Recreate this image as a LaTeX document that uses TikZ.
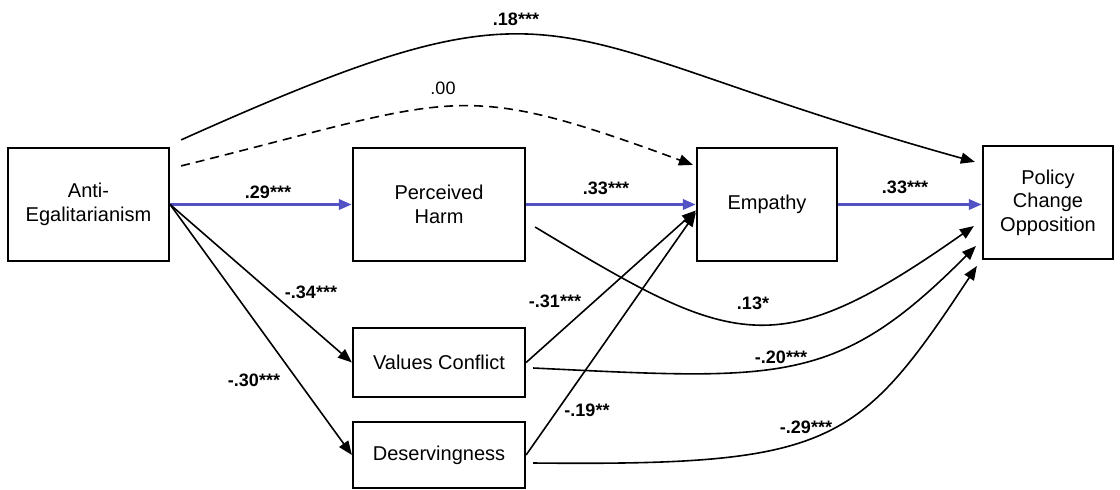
\documentclass[tikz,border=0pt]{standalone}
\usepackage{fontspec}
\setmainfont{Liberation Sans}
\usetikzlibrary{arrows.meta,calc}
\definecolor{pathblue}{RGB}{82,82,196}

\begin{document}
\begin{tikzpicture}[x=0.5pt,y=-0.5pt,
  box/.style={draw,line width=1.1pt,inner sep=0pt,align=center,
              font=\fontsize{10}{11.8}\selectfont},
  coef/.style={font=\fontsize{9}{10}\selectfont\bfseries,inner sep=1pt},
  link/.style={-{Triangle[length=7pt,width=5.5pt]},line width=0.8pt},
  mainlink/.style={-{Triangle[length=6.5pt,width=5pt]},line width=1.6pt,pathblue}
]
\useasboundingbox (0,0) rectangle (1120,489);

% ---- Boxes --------------------------------------------------
\node[box,minimum width=80.5pt,minimum height=56.5pt] (anti)    at (88.5,204.5) {Anti-\\Egalitarianism};
\node[box,minimum width=86pt,minimum height=56.5pt]   (harm)    at (439,204.5)  {Perceived\\Harm};
\node[box,minimum width=70pt,minimum height=56.5pt]   (empathy) at (767,204.5)  {Empathy};
\node[box,minimum width=65pt,minimum height=56.5pt]   (policy)  at (1048,202.5) {Policy\\Change\\Opposition};
\node[box,minimum width=86pt,minimum height=34.5pt]   (values)  at (439,362.5)  {Values Conflict};
\node[box,minimum width=86pt,minimum height=33pt]     (deserv)  at (439,455)    {Deservingness};

% ---- Main chain ---------------------------------------------
\draw[mainlink] (anti.east) -- (harm.west);
\draw[mainlink] (harm.east) -- (empathy.west);
\draw[mainlink] (empathy.east) -- (empathy.east -| policy.west);

% ---- Straight paths -----------------------------------------
\draw[link] (anti.east) -- (values.west);
\draw[link] (anti.east) -- (deserv.west);
\draw[link] (values.east) -- ($(empathy.west)+(0,6)$);
\draw[link] (deserv.east) -- ($(empathy.west)+(0,8)$);

% ---- Curved paths -------------------------------------------
\draw[link] ($(anti.north east)+(11,-7)$) .. controls (580,-39) and (526,37) .. ($(policy.north west)+(-7,17)$);
\draw[link,dash pattern=on 4.5pt off 3pt] ($(anti.north east)+(11,19)$) .. controls (460,97) and (454,77) .. ($(empathy.north west)+(-3,18)$);
\draw[link] ($(harm.east)+(9,22.5)$) .. controls (734,347) and (775,366) .. ($(policy.west)+(-8,23.5)$);
\draw[link] ($(values.east)+(7,5.5)$) .. controls (782,380) and (837,386) .. ($(policy.west)+(-6,43.5)$);
\draw[link] ($(deserv.east)+(7,8)$) .. controls (832,466) and (858,446) .. ($(policy.west)+(-5,63.5)$);

% ---- Coefficients -------------------------------------------
\node[coef] (l18) at (516,19)  {.18***};
\node[coef,font=\fontsize{9}{10}\selectfont] (l00) at (443,88) {.00};
\node[coef] (l29a) at (268,192) {.29***};
\node[coef] (l33a) at (606,188) {.33***};
\node[coef] (l33b) at (905,187) {.33***};
\node[coef] (l34) at (311,292) {-.34***};
\node[coef] (l30) at (254,380) {-.30***};
\node[coef] (l31) at (555,301) {-.31***};
\node[coef] (l19) at (587,410) {-.19**};
\node[coef] (l13) at (753,303) {.13*};
\node[coef] (l20) at (781,357) {-.20***};
\node[coef] (l29b) at (806,427) {-.29***};

\end{tikzpicture}
\end{document}
